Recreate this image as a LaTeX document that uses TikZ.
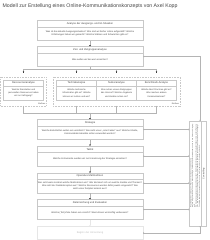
\documentclass[tikz,border=0pt]{standalone}
\usepackage{fontspec}
\setmainfont{Liberation Sans}
\usetikzlibrary{arrows.meta,calc}
\definecolor{bord}{HTML}{C8C8C8}
\definecolor{txt}{HTML}{444444}
\definecolor{conn}{HTML}{B4B4B4}
\definecolor{faint}{HTML}{E6E6E6}
\definecolor{fainttxt}{HTML}{BDBDBD}
\begin{document}
\begin{tikzpicture}[x=2pt,y=-2pt,
  mainbox/.style={draw=bord,line width=0.8pt,minimum width=212pt,minimum height=40pt,inner sep=0pt,outer sep=0pt},
  subbox/.style={draw=bord,line width=0.8pt,minimum width=80pt,minimum height=40pt,inner sep=0pt,outer sep=0pt},
  grpbox/.style={draw=bord,line width=0.8pt,dash pattern=on 1.6pt off 1.6pt,inner sep=0pt,outer sep=0pt},
  sep/.style={draw=bord,line width=0.8pt},
  hdr/.style={font=\fontsize{5.2}{6}\selectfont,text=txt,inner sep=0pt},
  body/.style={font=\fontsize{4.6}{6}\selectfont,text=txt,align=center,inner sep=0pt},
  subbody/.style={font=\fontsize{4.4}{6.6}\selectfont,text=txt,align=center,inner sep=0pt},
  small/.style={font=\fontsize{4}{5}\selectfont,text=txt,inner sep=0pt},
  blk/.style={line width=0.8pt,draw=conn,-{Latex[length=3pt,width=3.2pt,color=black]}},
  plain/.style={draw=conn,line width=0.8pt},
  side/.style={draw=conn,line width=0.8pt,{Straight Barb[length=1.6pt,width=3pt]}-{Straight Barb[length=1.6pt,width=3pt]}}
]
\useasboundingbox (0,0) rectangle (210,240);

% title
\node[anchor=west,font=\fontsize{10.4}{12}\selectfont,text=txt,inner sep=0pt] (title) at (2.5,6)
  {Modell zur Erstellung eines Online-Kommunikationskonzepts von Axel Kopp};

% main boxes
\node[mainbox] (b1) at (90,30.5) {};
\node[mainbox] (b2) at (90,56.5) {};
\node[mainbox] (str) at (90,129.5) {};
\node[mainbox] (tak) at (90,156) {};
\node[mainbox] (op) at (90,183) {};
\node[mainbox] (zi) at (90,209.5) {};
\node[draw=faint,line width=0.8pt,minimum width=212pt,minimum height=25pt,inner sep=0pt,outer sep=0pt,
      font=\fontsize{5.2}{6}\selectfont,text=fainttxt] (beg) at (90,232.75) {Beginn der Umsetzung};

\foreach \b in {b1,b2,str,tak,op,zi}{
  \draw[sep] ($(\b.north west)+(0,6.2)$) -- ($(\b.north east)+(0,6.2)$);
}

\node[hdr] (b1h) at (90,23.6) {Analyse der Ausgangs- und Ist-Situation};
\node[body] (b1t) at (90,33.6) {Was ist die aktuelle Ausgangssituation? Wie sind wir bisher online aufgestellt? Welche\\
  Erfahrungen haben wir gemacht? Welche Stärken und Schwächen gibt es?};
\node[hdr] (b2h) at (90,49.6) {Ziel- und Zielgruppenanalyse};
\node[body] (b2t) at (90,59.6) {Was wollen wir bei wem erreichen?};
\node[hdr] (strh) at (90,122.6) {Strategie};
\node[body] (strt) at (90,132.6) {Welche Botschaften wollen wir vermitteln? Wie sieht unser „roter Faden“ aus? Welche Inhalte,\\
  Kommunikationskanäle sollen verwendet werden?};
\node[hdr] (takh) at (90,149.1) {Taktik};
\node[body] (takt) at (90,159.1) {Welche Instrumente werden wir zur Umsetzung der Strategie einsetzen?};
\node[hdr] (oph) at (90,176.1) {Operative Maßnahmen};
\node[body] (opt) at (90,186.1) {Wer setzt wann konkret welche Maßnahmen um? Wer kümmert sich um welche Kanäle und Themen?\\
  Wie sieht der Redaktionsplan aus? Welche Ressourcen werden dafür jeweils eingesetzt? Wie\\
  sieht unser Zeitplan konkret aus?};
\node[hdr] (zih) at (90,202.6) {Zielerreichung und Evaluation};
\node[body] (zit) at (90,212.6) {Welche (Teil-)Ziele haben wir erreicht? Was können wir künftig verbessern?};

% analysis groups
\node[grpbox,minimum width=92pt,minimum height=58pt] (gL) at (23.5,91.2) {};
\node[grpbox,minimum width=254pt,minimum height=58pt] (gR) at (116.5,91.2) {};
\node[small,anchor=east] (eL) at (45.5,103.3) {Einfluss};
\node[small,anchor=east] (eR) at (179,103.3) {Einfluss};

\node[subbox] (r1) at (23.5,90) {};
\node[subbox] (t1) at (76.5,90) {};
\node[subbox] (n1) at (116.5,90) {};
\node[subbox] (bm) at (156.5,90) {};
\foreach \b in {r1,t1,n1,bm}{
  \draw[sep] ($(\b.north west)+(0,6)$) -- ($(\b.north east)+(0,6)$);
}
\node[hdr] (r1h) at (23.5,83) {Ressourcenanalyse};
\node[hdr] (t1h) at (76.5,83) {Technikanalyse};
\node[hdr] (n1h) at (116.5,83) {Nutzeranalyse};
\node[hdr] (bmh) at (156.5,83) {Benchmark-Analyse};
\node[subbody] (r1t) at (23.5,93) {Welche finanziellen und\\personellen Ressourcen haben\\wir zur Verfügung?};
\node[subbody] (t1t) at (76.5,93) {Welche technische\\Infrastruktur gibt es? Welche\\können wir nutzen und wie?};
\node[subbody] (n1t) at (116.5,93) {Wie nutzen unsere Zielgruppen\\das Internet? Welche Angebote\\und Kanäle nutzen sie?};
\node[subbody] (bmt) at (156.5,93) {Welche Best Practices gibt es?\\Was machen andere\\Kommunikatoren?};

% controlling
\node[draw=bord,line width=0.8pt,minimum width=33pt,minimum height=210pt,inner sep=0pt,outer sep=0pt] (ctl) at (197.75,173.5) {};
\draw[sep] (201.5,121) -- (201.5,226);
\node[font=\fontsize{4.6}{5}\selectfont,text=txt,rotate=90,inner sep=0pt] (ctlh) at (203.75,173.5) {Controlling};
\node[font=\fontsize{3}{3.35}\selectfont,text=txt,rotate=90,align=left,text width=170pt,inner sep=0pt] (ctlt) at (195.2,165)
  {Regelmäßige Überprüfung aller Phasen der Konzeption und Umsetzung:\\
   Werden die gesetzten Ziele erreicht? Passen Strategie, Taktik und operative Maßnahmen noch zu den Zielen und Zielgruppen?\\
   Wo müssen Anpassungen vorgenommen werden? Welche Erkenntnisse aus der Evaluation fließen in die weitere Planung\\
   ein? Wie entwickeln sich Technik, Nutzerverhalten und Wettbewerb? Welche Ressourcen stehen weiterhin zur Verfügung?\\
   Controlling begleitet den gesamten Prozess von der Strategie bis zur Evaluation fortlaufend.};

% main flow
\draw[blk] (b1.south) -- (b2.north);
\draw[blk] (str.south) -- (tak.north);
\draw[blk] (tak.south) -- (op.north);
\draw[blk] (op.south) -- (zi.north);
\draw[line width=0.8pt,draw=faint,-{Latex[length=3pt,width=3.2pt,color=faint]}] (zi.south) -- (beg.north);

% fan out
\coordinate (fo) at (90,69.3);
\coordinate (a1) at (23.5,73);
\coordinate (a2) at (76.5,73);
\coordinate (a3) at (116.5,73);
\coordinate (a4) at (156.5,73);
\draw[plain] (b2.south) -- (fo);
\draw[blk] (fo) -| (a1);
\draw[blk] (fo) -| (a2);
\draw[blk] (fo) -| (a3);
\draw[blk] (fo) -| (a4);

% fan in
\coordinate (fi) at (90,112.7);
\draw[plain] (r1 |- gL.south) |- (fi);
\draw[plain] (t1 |- gR.south) |- (fi);
\draw[plain] (n1 |- gR.south) |- (fi);
\draw[plain] (bm |- gR.south) |- (fi);
\draw[blk] (fi) -- (str.north);

% controlling links
\coordinate (cx) at (200,0);
\draw[side] (b2.east) -| (ctl.north -| cx);
\draw[side] (str.east) -- (str.east -| ctl.west);
\draw[side] (tak.east) -- (tak.east -| ctl.west);
\draw[side] (op.east) -- (op.east -| ctl.west);
\draw[side] (zi.east) -- (zi.east -| ctl.west);
\draw[side] (beg.east) -| (ctl.south -| cx);
\end{tikzpicture}
\end{document}
